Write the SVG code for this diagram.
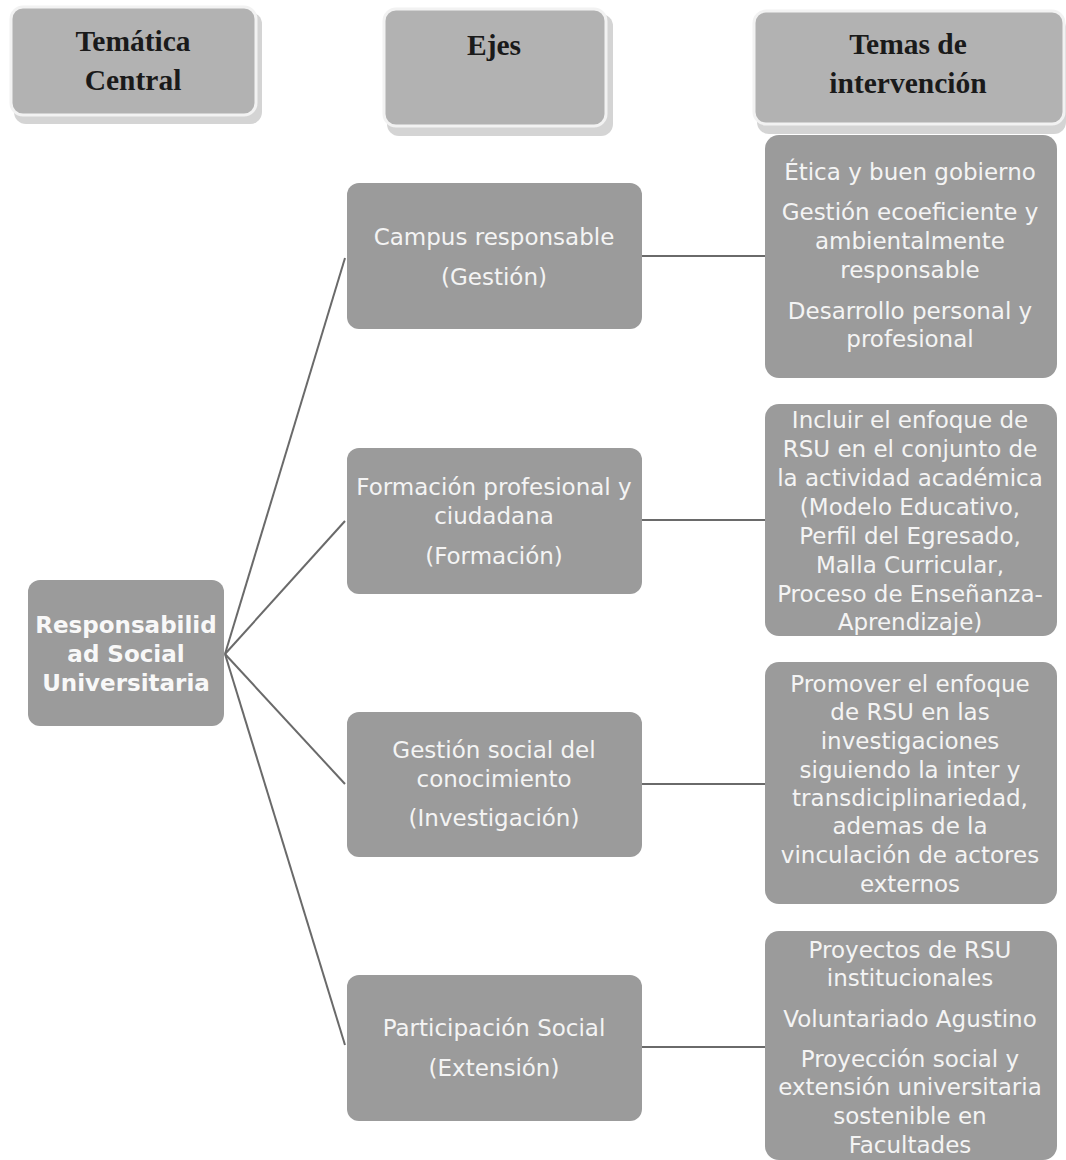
<svg xmlns="http://www.w3.org/2000/svg" width="1066" height="1160" viewBox="0 0 1066 1160">
<defs>
<style>
.hdr-sh{fill:#d4d4d4}
.hdr{fill:#b2b2b2;stroke:#f2f2f2;stroke-width:3}
.hdr-t{font-family:"Liberation Serif","Times New Roman",serif;font-weight:bold;font-size:29.5px;fill:#1a1a1a;text-anchor:middle}
.box{fill:#9b9b9b}
.t{font-family:"DejaVu Sans",Verdana,sans-serif;font-size:23px;fill:#f4f4f4;text-anchor:middle}
.tb{font-family:"DejaVu Sans",Verdana,sans-serif;font-weight:bold;font-size:23px;fill:#f8f8f8;text-anchor:middle}
.ln{stroke:#6a6a6a;stroke-width:2;fill:none}
</style>
</defs>
<rect width="1066" height="1160" fill="#ffffff"/>

<g id="hdr-tematica">
<rect class="hdr-sh" x="14" y="12" width="248" height="112" rx="12"/>
<rect class="hdr" x="11" y="7" width="245" height="108" rx="12"/>
<text class="hdr-t" x="133" y="51">Temática</text>
<text class="hdr-t" x="133" y="90">Central</text>
</g>
<g id="hdr-ejes">
<rect class="hdr-sh" x="387" y="14" width="226" height="122" rx="12"/>
<rect class="hdr" x="384" y="9" width="222" height="117" rx="12"/>
<text class="hdr-t" x="494" y="55">Ejes</text>
</g>
<g id="hdr-temas">
<rect class="hdr-sh" x="757" y="16" width="309" height="118" rx="12"/>
<rect class="hdr" x="754" y="11" width="310" height="113" rx="12"/>
<text class="hdr-t" x="908" y="54">Temas de</text>
<text class="hdr-t" x="908" y="93">intervención</text>
</g>

<g id="connectors">
<line class="ln" x1="225" y1="654" x2="345" y2="258"/>
<line class="ln" x1="225" y1="654" x2="345" y2="521"/>
<line class="ln" x1="225" y1="654" x2="345" y2="784"/>
<line class="ln" x1="225" y1="654" x2="345" y2="1045"/>
<line class="ln" x1="642" y1="256" x2="765" y2="256"/>
<line class="ln" x1="642" y1="520" x2="765" y2="520"/>
<line class="ln" x1="642" y1="784" x2="765" y2="784"/>
<line class="ln" x1="642" y1="1047" x2="765" y2="1047"/>
</g>

<g id="central">
<rect class="box" x="28" y="580" width="196" height="146" rx="12"/>
<text class="tb" x="126" y="633">Responsabilid</text>
<text class="tb" x="126" y="662">ad Social</text>
<text class="tb" x="126" y="691">Universitaria</text>
</g>

<g id="eje-campus">
<rect class="box" x="347" y="183" width="295" height="146" rx="12"/>
<text class="t" x="494" y="245">Campus responsable</text>
<text class="t" x="494" y="285">(Gestión)</text>
</g>
<g id="eje-formacion">
<rect class="box" x="347" y="448" width="295" height="146" rx="12"/>
<text class="t" x="494" y="495">Formación profesional y</text>
<text class="t" x="494" y="524">ciudadana</text>
<text class="t" x="494" y="564">(Formación)</text>
</g>
<g id="eje-gestion">
<rect class="box" x="347" y="712" width="295" height="145" rx="12"/>
<text class="t" x="494" y="758">Gestión social del</text>
<text class="t" x="494" y="787">conocimiento</text>
<text class="t" x="494" y="826">(Investigación)</text>
</g>
<g id="eje-participacion">
<rect class="box" x="347" y="975" width="295" height="146" rx="12"/>
<text class="t" x="494" y="1036">Participación Social</text>
<text class="t" x="494" y="1076">(Extensión)</text>
</g>

<g id="tema-1">
<rect class="box" x="765" y="135" width="292" height="243" rx="14"/>
<text class="t" x="910" y="180">Ética y buen gobierno</text>
<text class="t" x="910" y="220">Gestión ecoeficiente y</text>
<text class="t" x="910" y="249">ambientalmente</text>
<text class="t" x="910" y="278">responsable</text>
<text class="t" x="910" y="319">Desarrollo personal y</text>
<text class="t" x="910" y="347">profesional</text>
</g>
<g id="tema-2">
<rect class="box" x="765" y="404" width="292" height="232" rx="14"/>
<text class="t" x="910" y="428">Incluir el enfoque de</text>
<text class="t" x="910" y="457">RSU en el conjunto de</text>
<text class="t" x="910" y="486">la actividad académica</text>
<text class="t" x="910" y="515">(Modelo Educativo,</text>
<text class="t" x="910" y="544">Perfil del Egresado,</text>
<text class="t" x="910" y="573">Malla Curricular,</text>
<text class="t" x="910" y="602">Proceso de Enseñanza-</text>
<text class="t" x="910" y="630">Aprendizaje)</text>
</g>
<g id="tema-3">
<rect class="box" x="765" y="662" width="292" height="242" rx="14"/>
<text class="t" x="910" y="692">Promover el enfoque</text>
<text class="t" x="910" y="720">de RSU en las</text>
<text class="t" x="910" y="749">investigaciones</text>
<text class="t" x="910" y="778">siguiendo la inter y</text>
<text class="t" x="910" y="806">transdiciplinariedad,</text>
<text class="t" x="910" y="834">ademas de la</text>
<text class="t" x="910" y="863">vinculación de actores</text>
<text class="t" x="910" y="892">externos</text>
</g>
<g id="tema-4">
<rect class="box" x="765" y="931" width="292" height="229" rx="14"/>
<text class="t" x="910" y="958">Proyectos de RSU</text>
<text class="t" x="910" y="986">institucionales</text>
<text class="t" x="910" y="1027">Voluntariado Agustino</text>
<text class="t" x="910" y="1067">Proyección social  y</text>
<text class="t" x="910" y="1095">extensión universitaria</text>
<text class="t" x="910" y="1124">sostenible en</text>
<text class="t" x="910" y="1153">Facultades</text>
</g>
</svg>
